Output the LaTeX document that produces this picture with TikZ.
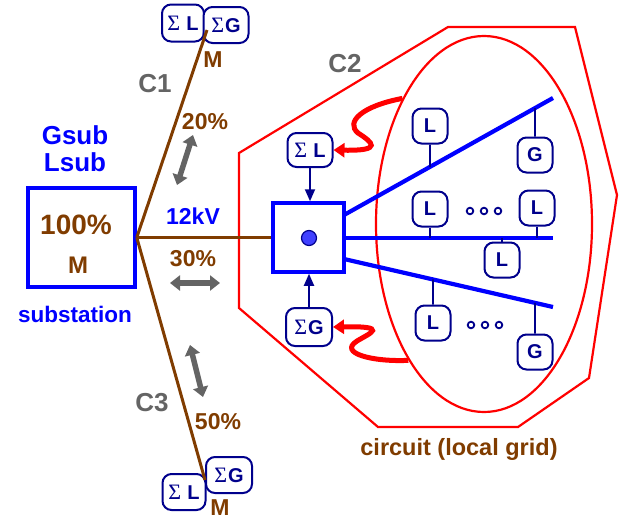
\documentclass[tikz,border=0pt]{standalone}
\usepackage{fontspec}
\setmainfont{Liberation Sans}
\newfontfamily\sigfont{Liberation Serif}
\usetikzlibrary{arrows.meta,shapes.geometric}
\definecolor{navy}{RGB}{0,0,140}
\definecolor{brn}{RGB}{128,60,0}
\definecolor{gry}{RGB}{100,100,100}
\definecolor{blu}{RGB}{0,0,255}
\definecolor{dotblu}{RGB}{64,64,255}
\newcommand{\sg}{{\sigfont\fontsize{22}{22}\selectfont\mdseries Σ}}
\begin{document}
\begin{tikzpicture}[x=1pt,y=-1pt,
  fs/.style={font=\bfseries\fontsize{#1}{#1}\selectfont},
  sbox/.style={draw=blu, line width=3.5pt, inner sep=0},
  ld/.style={draw=navy, fill=white, line width=2pt, rounded corners=9pt, minimum width=35pt, minimum height=35pt, inner sep=0, text=navy, fs=20},
  brl/.style={brn, line width=3pt},
  bll/.style={blu, line width=4.2pt},
  nl/.style={navy, line width=1.8pt},
  narr/.style={navy, line width=1.8pt, -{Triangle[length=12pt,width=10pt]}},
  redarr/.style={red, line width=5pt, -{Triangle[length=11pt,width=14pt]}},
  garr/.style={gry, line width=5.5pt, {Triangle[length=10pt,width=15pt]}-{Triangle[length=10pt,width=15pt]}},
  dotc/.style={draw=navy, line width=1.8pt, fill=white}
]
\useasboundingbox (0,0) rectangle (621,525);

% octagon and ellipse
\draw[red, line width=2.2pt] (239,153) -- (448,27) -- (575,27) -- (617,195) -- (589,378) -- (518,427) -- (378,427) -- (239,308) -- cycle;
\node[draw=red, line width=2.2pt, ellipse, minimum width=216pt, minimum height=376pt, inner sep=0] (el) at (484,224) {};

% substation and central box
\node[sbox, minimum width=107pt, minimum height=99pt] (sub) at (81.5,237.5) {};
\node[sbox, minimum width=71pt, minimum height=69pt] (sq) at (308.5,237.5) {};
\node[circle, draw=navy, fill=dotblu, line width=1.2pt, minimum size=15pt, inner sep=0] (dot) at (309,238) {};

% end coordinates
\coordinate (c1) at (207,30);
\coordinate (c3) at (205,480);

% M nodes
\node[ld, minimum width=42pt, minimum height=37pt] (s1l) at (183,23) {\sg\hspace{6pt}L};
\node[ld, minimum width=45pt, minimum height=36pt] (s1g) at (226,25) {\sg\hspace{1pt}G};
\node[ld, minimum width=43pt, minimum height=36pt] (s3l) at (184,492) {\sg\hspace{6pt}L};
\node[ld, minimum width=46pt, minimum height=36pt] (s3g) at (229,475) {\sg\hspace{1pt}G};

% brown lines
\draw[brl] (sub.east) -- (sq.west);
\draw[brl] (sub.east) -- (c1);
\draw[brl] (sub.east) -- (c3);

% feeders
\coordinate (f1s) at (344,215); \coordinate (f1e) at (553,98);
\coordinate (f2s) at (344,238); \coordinate (f2e) at (553,238);
\coordinate (f3s) at (344,259); \coordinate (f3e) at (553,307);
\draw[bll] (f1s) -- (f1e);
\draw[bll] (f2s) -- (f2e);
\draw[bll] (f3s) -- (f3e);

% loads
\node[ld] (a1) at (430,126) {L};
\node[ld] (a2) at (535,155) {G};
\node[ld] (b1) at (430,209) {L};
\node[ld] (b2) at (537,208) {L};
\node[ld] (b3) at (502,260) {L};
\node[ld] (d1) at (433,323) {L};
\node[ld] (d2) at (535,352) {G};
\draw[nl] (a1.south) -- (intersection of a1.south--a1.north and f1s--f1e);
\draw[nl] (a2.north) -- (intersection of a2.north--a2.south and f1s--f1e);
\draw[nl] (b1.south) -- (b1.south |- f2s);
\draw[nl] (b2.south) -- (b2.south |- f2s);
\draw[nl] (b3.north) -- (b3.north |- f2s);
\draw[nl] (d1.north) -- (intersection of d1.north--d1.south and f3s--f3e);
\draw[nl] (d2.north) -- (intersection of d2.north--d2.south and f3s--f3e);
\foreach \x in {470,484,498} \draw[dotc] (\x,211) circle (3.3pt);
\foreach \x in {471,485,499} \draw[dotc] (\x,325) circle (3.3pt);

% sums at central box
\node[ld, minimum width=45pt, minimum height=34pt] (cl) at (310,150) {\sg\hspace{6pt}L};
\node[ld, minimum width=46pt, minimum height=38pt] (cg) at (309,327) {\sg\hspace{1pt}G};
\draw[narr] (cl.south) -- (cl.south |- sq.north);
\draw[narr] (cg.north) -- (cg.north |- sq.south);

% red arrows
\draw[redarr] (el.123) .. controls (362,106) and (345,122) .. (358,133) .. controls (372,142) and (384,151) .. (cl.east);
\draw[redarr] (el.241) .. controls (372,362) and (338,353) .. (357,341) .. controls (370,333) and (390,326) .. (cg.east);

% gray arrows
\coordinate (g1a) at (193,135); \coordinate (g1b) at (177,185);
\coordinate (g2a) at (170,283); \coordinate (g2b) at (220,283);
\coordinate (g3a) at (190,345); \coordinate (g3b) at (203,397);
\draw[garr] (g1a) -- (g1b);
\draw[garr] (g2a) -- (g2b);
\draw[garr] (g3a) -- (g3b);

% texts
\node[fs=26, text=blu] (tg) at (75,135) {Gsub};
\node[fs=26, text=blu] (tl) at (75,162) {Lsub};
\node[fs=28, text=brn] (t100) at (76,225) {100\%};
\node[fs=24, text=brn] (tm) at (78,265) {M};
\node[fs=22.5, text=blu] (tsub) at (75,314) {substation};
\node[fs=23, text=blu] (tkv) at (193,216) {12kV};
\node[fs=23, text=brn] (t30) at (193,259) {30\%};
\node[fs=23, text=brn] (t20) at (205,122) {20\%};
\node[fs=23, text=brn] (t50) at (218,422) {50\%};
\node[fs=26, text=gry] (tc1) at (155,84) {C1};
\node[fs=26, text=gry] (tc2) at (345,64) {C2};
\node[fs=26, text=gry] (tc3) at (152,403) {C3};
\node[fs=23, text=brn] (tm1) at (213,60) {M};
\node[fs=23, text=brn] (tm3) at (220,508) {M};
\node[fs=23.5, text=brn] (tcirc) at (459,449) {circuit (local grid)};
\end{tikzpicture}
\end{document}
